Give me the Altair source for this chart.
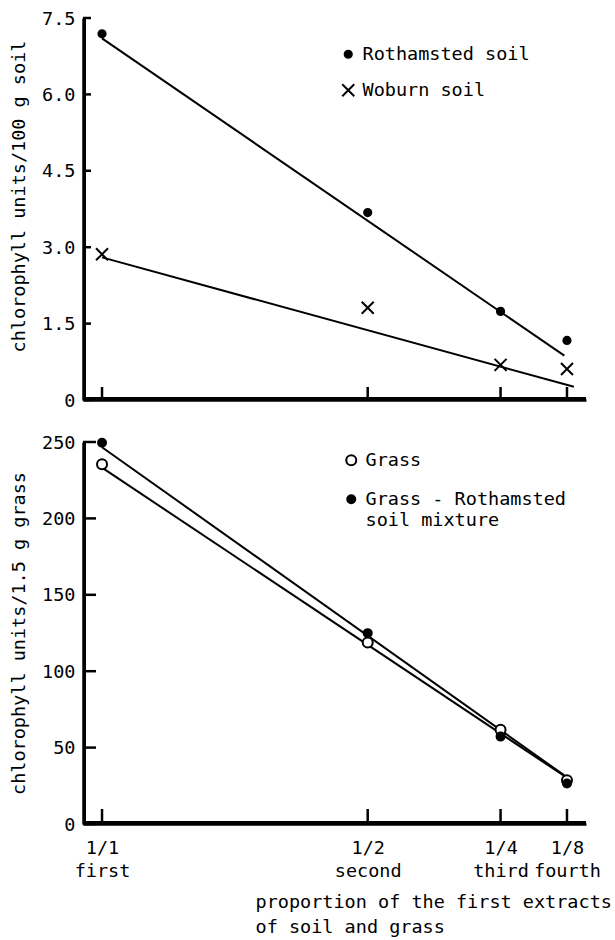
import altair as alt
import pandas as pd

FONT = "DejaVu Sans Mono"
FS = 18.5

# ---------------- data ----------------
x_ticks = [1.0, 0.5, 0.25, 0.125]
x_fracs = ["1/1", "1/2", "1/4", "1/8"]
x_names = ["first", "second", "third", "\u00a0\u00a0fourth"]
x_domain = [0.0892, 1.0358]
x_title = ["proportion of the first extracts", "of soil and grass"]

soil_series = ["Rothamsted soil", "Woburn soil"]
rothamsted = [7.19, 3.68, 1.74, 1.17]
woburn = [2.86, 1.81, 0.69, 0.61]
rothamsted_fit_p = [1.0, 0.13]
rothamsted_fit = [7.10, 0.87]
woburn_fit_p = [1.0, 0.112]
woburn_fit = [2.80, 0.26]
soil_yticks = [0, 1.5, 3.0, 4.5, 6.0, 7.5]
soil_title = "chlorophyll units/100 g soil"

grass_series = ["Grass", "Grass - Rothamsted soil mixture"]
grass_label_lines = ["Grass - Rothamsted", "soil mixture"]
grass = [235.4, 118.8, 61.7, 28.7]
mixture = [249.5, 124.9, 57.2, 26.5]
grass_fit_p = [1.0, 0.13]
grass_fit = [233.2, 31.4]
mixture_fit_p = [1.0, 0.13]
mixture_fit = [246.6, 31.8]
grass_yticks = [0, 50, 100, 150, 200, 250]
grass_title = "chlorophyll units/1.5 g grass"

# ---------------- tables ----------------
soil_pts = pd.DataFrame({
    "p": x_ticks * 2,
    "value": rothamsted + woburn,
    "series": [s for s in soil_series for _ in x_ticks],
})
soil_fit = pd.DataFrame({
    "p": rothamsted_fit_p + woburn_fit_p,
    "value": rothamsted_fit + woburn_fit,
    "series": [soil_series[0]] * 2 + [soil_series[1]] * 2,
})
grass_pts = pd.DataFrame({
    "p": x_ticks * 2,
    "value": grass + mixture,
    "series": [s for s in grass_series for _ in x_ticks],
})
grass_fit_df = pd.DataFrame({
    "p": grass_fit_p + mixture_fit_p,
    "value": grass_fit + mixture_fit,
    "series": [grass_series[0]] * 2 + [grass_series[1]] * 2,
})
xtick_df = pd.DataFrame({"p": x_ticks})
one_row = pd.DataFrame({"k": [0]})

W, H = 503, 382

DOT = "M-0.6,0A0.6,0.6,0,1,1,0.6,0A0.6,0.6,0,1,1,-0.6,0Z"
XMARK = "M-1,-1L1,1M1,-1L-1,1"
RING = "M-1,0A1,1,0,1,1,1,0A1,1,0,1,1,-1,0Z"
DOT2 = "M-0.8,0A0.8,0.8,0,1,1,0.8,0A0.8,0.8,0,1,1,-0.8,0Z"

xscale = alt.Scale(domain=x_domain, reverse=True, nice=False, zero=False)


def js_str(s):
    return "'" + s.replace("'", "\\'") + "'"


def x_label_expr():
    expr = "''"
    for v, a, b in reversed(list(zip(x_ticks, x_fracs, x_names))):
        expr = f"datum.value == {v} ? [{js_str(a)}, {js_str(b)}] : ({expr})"
    return expr


AX = dict(domain=True, domainColor="black", domainWidth=2.5, ticks=False, tickSize=0, grid=False)


def panel(pts, fit, yticks, ydomain, series, shapes, fills, size, ytitle,
          ylabel_expr, title_y, legend, ytick_len, xtick_len, bottom):
    if bottom:
        xaxis = alt.Axis(values=x_ticks, labelExpr=x_label_expr(), labelPadding=14,
                         labelLineHeight=23, labelBaseline="top", title=x_title,
                         titleAlign="left", titleAnchor="start", titleBaseline="top",
                         titleX=172, titleY=68, titleLineHeight=25,
                         labelOverlap=False, labelFlush=False, **AX)
    else:
        xaxis = alt.Axis(values=x_ticks, labels=False, title=None, **AX)
    yaxis = alt.Axis(values=yticks, labelExpr=ylabel_expr, title=ytitle,
                     titleX=-65, titleY=title_y, titleAngle=-90,
                     titleAlign="center", titleBaseline="middle", labelPadding=8, **AX)
    yscale = alt.Scale(domain=ydomain, nice=False, zero=True)
    X = alt.X("p:Q", scale=xscale, axis=xaxis)
    Y = alt.Y("value:Q", scale=yscale, axis=yaxis)

    # axis lines drawn as thin filled bars just inside the left and bottom edges
    left_bar = alt.Chart(one_row).mark_rect(color="black", opacity=1).encode(
        x=alt.value(0), x2=alt.value(3),
        y=alt.value(0), y2=alt.value(H),
    )
    bottom_bar = alt.Chart(one_row).mark_rect(color="black", opacity=1).encode(
        x=alt.value(0), x2=alt.value(W),
        y=alt.value(H - 3), y2=alt.value(H),
    )
    lines = alt.Chart(fit).mark_line(color="black", strokeWidth=2).encode(
        x=X, y=Y, detail="series:N",
    )
    pts_layer = alt.Chart(pts).mark_point(strokeWidth=2, opacity=1,
                                          size=size).encode(
        x=X, y=Y,
        shape=alt.Shape("series:N", scale=alt.Scale(domain=series, range=shapes),
                        legend=legend),
        fill=alt.Fill("series:N", scale=alt.Scale(domain=series, range=fills),
                      legend=legend),
        stroke=alt.Stroke("series:N", scale=alt.Scale(domain=series, range=["black", "black"]),
                          legend=legend),
    )
    ytick_df = pd.DataFrame({"value": yticks})
    yt = alt.Chart(ytick_df).mark_rule(color="black", strokeWidth=2.5).encode(
        y=Y, x=alt.value(0), x2=alt.value(ytick_len),
    )
    xt = alt.Chart(xtick_df).mark_rule(color="black", strokeWidth=2.5).encode(
        x=X, y=alt.value(H), y2=alt.value(H - xtick_len),
    )
    return alt.layer(left_bar, bottom_bar, lines, pts_layer, yt, xt).properties(width=W, height=H)


def legend_obj(x, y, sym, row_pad, label_expr=None):
    kw = dict(title=None, orient="none", legendX=x, legendY=y, labelFont=FONT,
              labelFontSize=FS, labelColor="black", symbolSize=sym,
              symbolStrokeWidth=2, symbolStrokeColor="black", rowPadding=row_pad,
              labelOffset=5, padding=0, labelLimit=0, labelBaseline="middle")
    if label_expr:
        kw["labelExpr"] = label_expr
    return alt.Legend(**kw)


nb = "\u00a0" * 8
mix_expr = (f"datum.label == {js_str(grass_series[1])} ? "
            f"[{js_str(grass_label_lines[0])}, {js_str(nb + grass_label_lines[1])}] : datum.label")

top = panel(soil_pts, soil_fit, soil_yticks, [0, 7.5], soil_series, [DOT, XMARK],
            ["black", "transparent"], 144, soil_title,
            "datum.value == 0 ? '0' : format(datum.value, '.1f')", 178,
            legend_obj(256, 27, 144, 16), 8, 13, False)

bottom = panel(grass_pts, grass_fit_df, grass_yticks, [0, 250], grass_series,
               [RING, DOT2], ["white", "black"], 100, grass_title,
               "format(datum.value, 'd')", H / 2,
               legend_obj(259, 9, 100, 20, mix_expr), 13, 15, True)

chart = alt.vconcat(top, bottom, spacing=42, bounds="flush").resolve_scale(
    shape="independent", fill="independent", stroke="independent", y="independent"
).resolve_legend(shape="independent", fill="independent", stroke="independent").properties(
    padding={"left": 9, "top": 9, "right": 0, "bottom": 2},
    background="white",
).configure_view(stroke=None).configure_axis(
    labelFont=FONT, labelFontSize=FS, labelColor="black",
    titleFont=FONT, titleFontSize=FS, titleColor="black", titleFontWeight="normal",
    grid=False, ticks=False, tickSize=0, domain=True, domainColor="black", domainWidth=2.5,
).configure_legend(labelFont=FONT)

chart.save("out.html", embed_options={"renderer": "svg", "actions": False})
